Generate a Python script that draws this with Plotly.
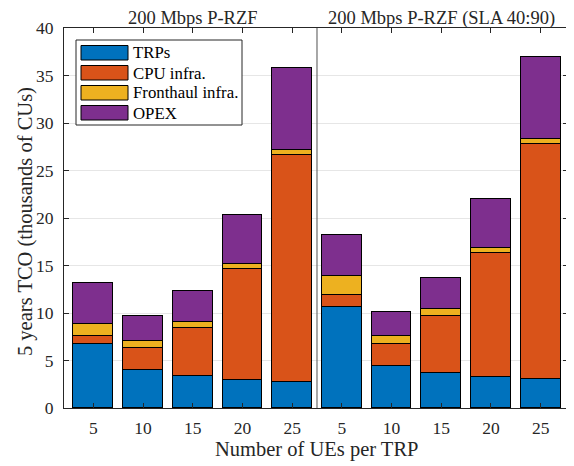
import plotly.graph_objects as go

# ---- data ----
x_pos = [1, 2, 3, 4, 5, 6, 7, 8, 9, 10]
tick_labels = ["5", "10", "15", "20", "25", "5", "10", "15", "20", "25"]
group_titles = ["200 Mbps P-RZF", "200 Mbps P-RZF (SLA 40:90)"]
group_centers = [3, 8]
separator_x = 5.5
x_title = "Number of UEs per TRP"
y_title = "5 years TCO (thousands of CUs)"

series_names = ["TRPs", "CPU infra.", "Fronthaul infra.", "OPEX"]
trps = [6.76, 4.03, 3.32, 2.94, 2.77, 10.58, 4.42, 3.64, 3.22, 3.05]
cpu = [0.87, 2.28, 5.09, 11.68, 23.83, 1.33, 2.34, 6.07, 13.08, 24.71]
fronthaul = [1.23, 0.77, 0.63, 0.52, 0.53, 1.97, 0.81, 0.66, 0.56, 0.56]
opex = [4.35, 2.63, 3.26, 5.19, 8.62, 4.34, 2.56, 3.30, 5.18, 8.59]
colors = ["#0072BD", "#D95319", "#EDB120", "#7E2F8E"]

FONT = "Liberation Serif"
TXT = "#262626"
OFF = 8  # default page body margin
W, H = 574 - OFF, 466 - OFF
# plot area in window pixels: x 64..568, y 28..408
PL, PR, PT, PB = 64, 568, 28, 408
L, T = PL - OFF, PT - OFF
R, B = W - (PR - OFF), H - (PB - OFF)
pw, ph = PR - PL, PB - PT


def px(xp):
    return (xp - PL) / pw


def py(yp):
    return 1 - (yp - PT) / ph


fig = go.Figure()
for name, vals, col in zip(series_names, [trps, cpu, fronthaul, opex], colors):
    fig.add_trace(go.Bar(
        x=x_pos, y=vals, name=name, width=0.8,
        marker=dict(color=col, line=dict(color="black", width=1)),
        showlegend=False,
    ))

shapes = [
    dict(type="line", xref="x", yref="y", x0=separator_x, x1=separator_x,
         y0=0, y1=40, line=dict(color="#6e6e6e", width=1.2), layer="above"),
]
annotations = []
for t, c in zip(group_titles, group_centers):
    annotations.append(dict(text=t, x=c, xref="x", y=1, yref="paper",
                            yanchor="bottom", showarrow=False, yshift=-1, height=20,
                            valign="middle", borderpad=0,
                            font=dict(family=FONT, size=18.5, color=TXT)))

# axis titles
annotations.append(dict(text=x_title, x=0.5, xref="paper", y=py(450), yref="paper",
                        xanchor="center", yanchor="middle", showarrow=False,
                        font=dict(family=FONT, size=20.5, color=TXT)))
annotations.append(dict(text=y_title, x=px(25), xref="paper", y=py(222), yref="paper",
                        xanchor="center", yanchor="middle", showarrow=False, textangle=-90,
                        font=dict(family=FONT, size=20.5, color=TXT)))

# custom legend (MATLAB style wide swatches)
shapes.append(dict(type="rect", xref="paper", yref="paper",
                   x0=px(76), x1=px(242), y0=py(125), y1=py(40),
                   line=dict(color="#262626", width=1), fillcolor="white", layer="above"))
for i, (name, col) in enumerate(zip(series_names, colors)):
    y0 = 45.5 + 20 * i
    shapes.append(dict(type="rect", xref="paper", yref="paper",
                       x0=px(81), x1=px(128), y0=py(y0 + 14.5), y1=py(y0),
                       line=dict(color="black", width=1), fillcolor=col, layer="above"))
    annotations.append(dict(text=name, x=px(131), xref="paper", y=py(y0 + 7.5), yref="paper",
                            xanchor="left", yanchor="middle", showarrow=False,
                            font=dict(family=FONT, size=16.8, color="black")))

axis_common = dict(showline=True, linecolor="#262626", linewidth=1, mirror="ticks",
                   ticks="inside", ticklen=5, tickcolor="#262626", tickwidth=1,
                   tickfont=dict(family=FONT, size=17.5, color=TXT),
                   zeroline=False, automargin=False)

fig.update_layout(
    width=W, height=H,
    margin=dict(l=L, r=R, t=T, b=B),
    plot_bgcolor="white", paper_bgcolor="white",
    barmode="stack",
    bargap=0,
    shapes=shapes,
    annotations=annotations,
    xaxis=dict(range=[0.41, 10.55], tickvals=x_pos, ticktext=tick_labels,
               showgrid=False, ticklabelstandoff=4, **axis_common),
    yaxis=dict(range=[0, 40], dtick=5, showgrid=True, gridcolor="#e6e6e6", gridwidth=1,
               ticklabelstandoff=6, **axis_common),
    font=dict(family=FONT),
)

fig.write_html("out.html")
